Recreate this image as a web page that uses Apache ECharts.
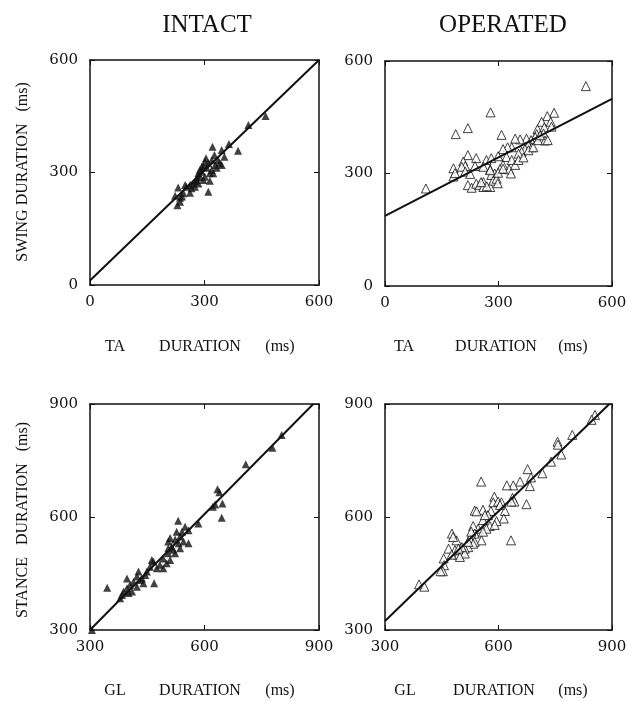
<!DOCTYPE html>
<html>
<head>
<meta charset="utf-8">
<script src="https://cdn.jsdelivr.net/npm/echarts@6/dist/echarts.min.js"></script>
<style>
html,body{margin:0;padding:0;background:#fff;}
#c{width:637px;height:701px;}
</style>
</head>
<body>
<div id="c"></div>
<script>
// ---- DATA ----
const panelTitles = ['INTACT', 'OPERATED'];
const swingTicks = [0, 300, 600];
const stanceTicks = [300, 600, 900];

// INTACT: swing duration vs TA duration (ms)
const intactSwingPts = [
  [460,451],[415,427],[364,376],[388,358],[321,369],[345,360],[352,342],[304,338],
  [326,347],[340,325],[332,313],[319,307],[297,316],[293,302],[310,325],[288,289],
  [279,280],[271,271],[262,267],[253,262],[275,262],[262,246],[314,278],[310,249],
  [231,260],[223,238],[241,236],[236,222],[229,213],[249,267],[284,298],[301,289],
  [323,298],[336,333],[345,320],[306,313],[293,316],[284,271],[245,245],[236,233],
  [275,276],[297,280],[288,307],[319,333],[328,320],[314,298],[281,287],[266,258],
  [301,329]
];
const intactSwingFit = [[0,12],[600,600]];

// OPERATED: swing duration vs TA duration (ms)
const operatedSwingPts = [
  [531,533],[447,462],[429,453],[414,438],[438,438],[421,423],[440,425],[403,418],
  [419,407],[401,405],[397,397],[423,388],[430,389],[386,389],[374,393],[357,391],
  [344,393],[379,376],[388,370],[370,365],[361,358],[353,353],[335,370],[324,370],
  [312,365],[308,403],[279,463],[219,421],[187,405],[108,260],[219,349],[241,341],
  [268,336],[281,341],[299,346],[321,344],[335,336],[344,323],[328,311],[312,323],
  [207,332],[212,320],[203,318],[181,314],[181,292],[185,301],[212,305],[225,299],
  [238,320],[260,318],[278,311],[304,312],[333,300],[290,300],[281,296],[278,309],
  [219,269],[229,262],[241,273],[250,269],[260,277],[260,264],[278,264],[286,281],
  [295,286],[298,274],[299,302],[312,313],[353,336],[366,343],[379,362],[392,370],
  [404,389],[410,402],[269,266],[254,277]
];
const operatedSwingFit = [[0,187],[600,499]];

// INTACT: stance duration vs GL duration (ms)
const intactStancePts = [
  [802,818],[778,784],[708,740],[634,674],[639,666],[647,636],[645,598],[628,633],
  [622,627],[584,583],[558,530],[531,590],[549,574],[541,561],[527,561],[536,548],
  [523,540],[505,535],[514,521],[536,517],[523,504],[505,504],[492,490],[510,486],
  [483,473],[462,486],[457,468],[475,464],[449,455],[427,455],[436,437],[423,442],
  [414,428],[397,437],[405,420],[397,411],[388,402],[379,384],[384,393],[410,402],
  [423,415],[440,424],[468,424],[345,412],[305,300],[492,464],[501,477],[518,513],
  [558,565],[545,535],[505,517],[466,482],[445,446],[432,433],[401,398],[532,530],
  [510,544]
];
const intactStanceFit = [[300,300],[885,900]];

// OPERATED: stance duration vs GL duration (ms)
const operatedStancePts = [
  [855,871],[846,858],[795,818],[756,800],[757,792],[766,766],[739,747],[716,716],
  [677,727],[686,705],[657,694],[683,682],[639,684],[622,684],[637,651],[642,641],
  [674,634],[554,694],[589,654],[586,639],[599,641],[608,639],[617,616],[614,596],
  [595,589],[580,616],[559,619],[559,592],[537,617],[542,615],[572,605],[577,576],
  [568,569],[546,569],[533,576],[537,556],[559,561],[555,538],[537,534],[524,543],
  [533,529],[520,520],[511,516],[503,507],[494,500],[511,503],[489,538],[477,556],
  [480,547],[468,516],[485,512],[498,494],[455,490],[456,472],[453,456],[447,456],
  [390,421],[404,415],[633,538],[634,641],[604,632],[564,605],[590,579],[528,561],
  [520,534],[503,520],[494,516],[476,500]
];
const operatedStanceFit = [[300,324],[893,900]];

// ---- CHART ----
const FONT = 'DejaVu Serif';
const INK = '#111';
const grids = [
  {left: 90,  top: 60,  width: 229, height: 225},
  {left: 385, top: 61,  width: 227, height: 225},
  {left: 90,  top: 404, width: 229, height: 226},
  {left: 385, top: 404, width: 227, height: 226}
];
const ranges = [swingTicks, swingTicks, stanceTicks, stanceTicks];

const xAxes = [], yAxes = [];
ranges.forEach((t, i) => {
  const base = {
    gridIndex: i, type: 'value', min: t[0], max: t[t.length - 1], interval: t[1] - t[0],
    splitLine: {show: false},
    axisLine: {show: true, onZero: false, lineStyle: {color: INK, width: 1.5}},
    axisTick: {show: true, inside: true, length: 5, lineStyle: {color: INK, width: 1}}
  };
  xAxes.push(Object.assign({}, base, {position: 'bottom',
    axisLabel: {fontFamily: FONT, fontSize: 15, color: INK, margin: 10}}));
  xAxes.push(Object.assign({}, base, {position: 'top', axisLabel: {show: false}}));
  yAxes.push(Object.assign({}, base, {position: 'left',
    axisLabel: {fontFamily: FONT, fontSize: 15, color: INK, margin: 12}}));
  yAxes.push(Object.assign({}, base, {position: 'right', axisLabel: {show: false}}));
});

function scatter(i, pts, filled) {
  return {
    type: 'scatter', xAxisIndex: 2 * i, yAxisIndex: 2 * i, data: pts,
    symbol: 'triangle', symbolSize: filled ? 8 : 9,
    itemStyle: filled ? {color: INK} : {color: '#fff', borderColor: INK, borderWidth: 1},
    silent: true, z: 3
  };
}
function fit(i, pts) {
  return {
    type: 'line', xAxisIndex: 2 * i, yAxisIndex: 2 * i, data: pts,
    symbol: 'none', lineStyle: {color: INK, width: 2}, silent: true, z: 4
  };
}

function txt(x, y, s, size, rot) {
  return {
    type: 'text', x: x, y: y, rotation: rot || 0,
    style: {text: s, fill: INK, font: size + 'px "Liberation Serif"', align: 'center', verticalAlign: 'middle'}
  };
}

const graphics = [
  txt(207, 25, panelTitles[0], 25),
  txt(503, 25, panelTitles[1], 25),
  // x-axis titles
  txt(115, 347, 'TA', 16), txt(200, 347, 'DURATION', 16), txt(280, 347, '(ms)', 16),
  txt(404, 347, 'TA', 16), txt(496, 347, 'DURATION', 16), txt(573, 347, '(ms)', 16),
  txt(115, 691, 'GL', 16), txt(200, 691, 'DURATION', 16), txt(280, 691, '(ms)', 16),
  txt(405, 691, 'GL', 16), txt(494, 691, 'DURATION', 16), txt(573, 691, '(ms)', 16),
  // y-axis titles
  txt(23, 172, 'SWING DURATION   (ms)', 16, Math.PI / 2),
  txt(23, 520, 'STANCE   DURATION   (ms)', 16, Math.PI / 2)
];

const chart = echarts.init(document.getElementById('c'), null, {renderer: 'canvas'});
chart.setOption({
  animation: false,
  backgroundColor: '#fff',
  grid: grids,
  xAxis: xAxes,
  yAxis: yAxes,
  series: [
    scatter(0, intactSwingPts, true), fit(0, intactSwingFit),
    scatter(1, operatedSwingPts, false), fit(1, operatedSwingFit),
    scatter(2, intactStancePts, true), fit(2, intactStanceFit),
    scatter(3, operatedStancePts, false), fit(3, operatedStanceFit)
  ],
  graphic: graphics
});
</script>
</body>
</html>
